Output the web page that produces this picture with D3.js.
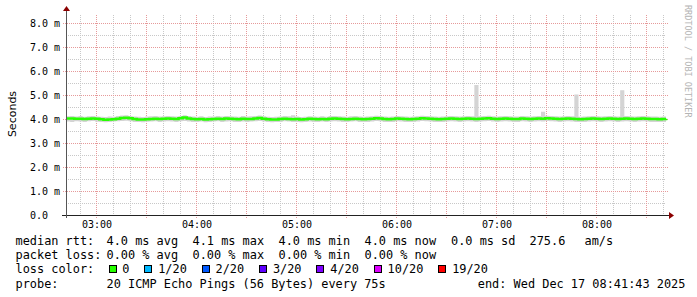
<!DOCTYPE html>
<html>
<head>
<meta charset="utf-8">
<script src="https://cdn.jsdelivr.net/npm/d3@7"></script>
<style>
  body { margin: 0; background: #fff; }
  svg { display: block; }
  text { font-family: "DejaVu Sans Mono", monospace; }
</style>
</head>
<body>
<svg id="chart" width="697" height="297"></svg>
<script>
// median rtt (ms), one value per 150 s from 02:41:43 to 08:41:43
const median = [
  4.02,4.02,4.01,4.01,4.00,4.01,4.02,4.01,3.99,3.97,3.98,3.99,
  4.01,4.04,4.05,4.03,4.00,3.98,3.98,3.99,4.00,4.01,4.00,4.01,
  4.02,4.01,4.00,4.03,4.06,4.02,4.00,3.99,4.00,3.98,3.99,4.00,
  4.01,4.00,4.02,4.01,4.00,3.99,4.01,4.00,4.00,4.02,4.04,4.01,
  3.99,3.98,3.98,4.00,4.01,4.00,3.99,4.00,3.98,3.99,4.01,4.00,
  3.99,4.00,3.99,4.01,4.02,4.01,4.00,3.99,4.00,4.01,4.00,3.99,
  4.00,4.01,4.03,4.02,4.00,3.99,4.00,4.02,4.01,4.00,3.99,4.00,
  4.01,4.03,4.02,4.01,4.00,3.99,4.00,4.01,4.02,4.01,4.00,4.01,
  4.02,4.01,4.00,4.01,4.02,4.03,4.01,4.00,4.01,4.02,4.01,4.00,
  4.00,4.02,4.01,4.00,4.01,4.02,4.01,4.03,4.02,4.01,4.00,4.01,
  4.02,4.01,4.00,3.99,4.00,4.01,4.02,4.01,4.00,4.01,4.02,4.01,
  4.00,4.01,4.02,4.01,4.00,4.01,4.02,4.01,4.00,4.00,3.99,4.00,
  4.01
];
// fastest ping of each step (ms)
const smokeLow = [
  3.90,3.88,3.91,3.90,3.87,3.91,3.92,3.89,3.88,3.86,3.87,3.90,
  3.91,3.92,3.93,3.91,3.88,3.87,3.86,3.89,3.90,3.91,3.88,3.90,
  3.91,3.90,3.88,3.91,3.92,3.90,3.88,3.87,3.90,3.86,3.87,3.90,
  3.91,3.88,3.90,3.91,3.88,3.87,3.90,3.88,3.90,3.91,3.92,3.90,
  3.87,3.86,3.87,3.88,3.91,3.90,3.87,3.88,3.86,3.87,3.90,3.88,
  3.87,3.90,3.88,3.90,3.91,3.90,3.88,3.87,3.90,3.91,3.88,3.87,
  3.88,3.90,3.92,3.91,3.88,3.87,3.88,3.91,3.90,3.88,3.87,3.88,
  3.90,3.92,3.91,3.90,3.88,3.87,3.88,3.90,3.91,3.90,3.88,3.90,
  3.91,3.90,3.88,3.90,3.91,3.92,3.90,3.88,3.90,3.91,3.90,3.88,
  3.88,3.91,3.90,3.88,3.90,3.91,3.90,3.92,3.91,3.90,3.88,3.90,
  3.91,3.90,3.88,3.87,3.88,3.90,3.91,3.90,3.88,3.90,3.91,3.90,
  3.88,3.90,3.91,3.90,3.88,3.90,3.91,3.90,3.88,3.88,3.87,3.88,
  3.90
];
// slowest ping of each step (ms)
const smokeHigh = [
  4.11,4.13,4.10,4.12,4.09,4.11,4.13,4.10,4.09,4.08,4.10,4.09,
  4.12,4.15,4.16,4.13,4.10,4.09,4.08,4.10,4.11,4.13,4.10,4.11,
  4.12,4.11,4.10,4.13,4.16,4.12,4.10,4.09,4.11,4.08,4.10,4.10,
  4.12,4.10,4.13,4.11,4.10,4.09,4.12,4.10,4.11,4.13,4.15,4.11,
  4.09,4.08,4.09,4.10,4.12,4.11,4.16,4.10,4.08,4.09,4.11,4.10,
  4.09,4.11,4.09,4.12,4.13,4.11,4.10,4.09,4.11,4.12,4.10,4.09,
  4.10,4.11,4.14,4.13,4.10,4.09,4.10,4.13,4.11,4.10,4.09,4.10,
  4.11,4.14,4.13,4.11,4.10,4.09,4.10,4.11,4.13,4.11,4.10,4.11,
  4.12,4.11,5.42,4.11,4.13,4.14,4.11,4.10,4.11,4.13,4.11,4.10,
  4.10,4.13,4.11,4.10,4.11,4.13,4.30,4.14,4.13,4.11,4.10,4.11,
  4.13,4.11,5.02,4.09,4.10,4.11,4.13,4.11,4.10,4.11,4.13,4.11,
  4.10,5.20,4.13,4.11,4.10,4.11,4.13,4.11,4.10,4.10,4.09,4.10,
  4.11
];

const yTickValues = [0, 1, 2, 3, 4, 5, 6, 7, 8];
const yTickLabels = ["0.0", "1.0 m", "2.0 m", "3.0 m", "4.0 m", "5.0 m", "6.0 m", "7.0 m", "8.0 m"];

const lossLabels = ["0", "1/20", "2/20", "3/20", "4/20", "10/20", "19/20"];
const lossColors = ["#26ff00", "#00b8ff", "#0059ff", "#5e00ff", "#7e00ff", "#dd00ff", "#ff0000"];

const legendRtt = ["median rtt:", "4.0 ms avg", "4.1 ms max", "4.0 ms min", "4.0 ms now", "0.0 ms sd", "275.6", "am/s"];
const legendLoss = ["packet loss:", "0.00 % avg", "0.00 % max", "0.00 % min", "0.00 % now"];
const probeText = "20 ICMP Echo Pings (56 Bytes) every 75s";
const endText = "end: Wed Dec 17 08:41:43 2025";

const START = Date.UTC(2025, 11, 17, 2, 41, 43);
const END = Date.UTC(2025, 11, 17, 8, 41, 43);
const STEP = 150 * 1000;

const LEFT = 66, RIGHT = 666, TOP = 15, BOTTOM = 215;
const CW = 7.17; // legend character cell

const svg = d3.select("#chart");

const x = d3.scaleUtc().domain([new Date(START), new Date(END)]).range([LEFT, RIGHT]);
const y = d3.scaleLinear().domain([0, 200 / 24]).range([BOTTOM, TOP]);

const rows = median.map((m, i) => ({
  t: new Date(START + i * STEP), med: m, lo: smokeLow[i], hi: smokeHigh[i]
}));

// grid
const grid = svg.append("g").attr("shape-rendering", "crispEdges");
const minorY = d3.range(0.5, 8.4, 1);
grid.selectAll(".hy").data(minorY).join("line")
  .attr("x1", LEFT).attr("x2", RIGHT)
  .attr("y1", d => Math.round(y(d)) + 0.5).attr("y2", d => Math.round(y(d)) + 0.5)
  .attr("stroke", "#c8c8c8").attr("stroke-dasharray", "1,1");
const minorX = d3.utcMinute.every(10).range(new Date(START), new Date(END))
  .filter(d => d.getUTCMinutes() % 30 !== 0);
grid.selectAll(".vx").data(minorX).join("line")
  .attr("x1", d => Math.round(x(d)) + 0.5).attr("x2", d => Math.round(x(d)) + 0.5)
  .attr("y1", TOP).attr("y2", BOTTOM)
  .attr("stroke", "#c8c8c8").attr("stroke-dasharray", "1,1");
const majorX = d3.utcMinute.every(30).range(new Date(START), new Date(END));
grid.selectAll(".mx").data(majorX).join("line")
  .attr("x1", d => Math.round(x(d)) + 0.5).attr("x2", d => Math.round(x(d)) + 0.5)
  .attr("y1", TOP).attr("y2", BOTTOM + 3)
  .attr("stroke", "#e69a9a").attr("stroke-dasharray", "1,1");
grid.selectAll(".my").data(yTickValues.slice(1)).join("line")
  .attr("x1", LEFT - 3).attr("x2", RIGHT + 2)
  .attr("y1", d => Math.round(y(d)) + 0.5).attr("y2", d => Math.round(y(d)) + 0.5)
  .attr("stroke", "#e69a9a").attr("stroke-dasharray", "1,1");

// smoke and median
const plot = svg.append("g");
plot.append("path").datum(rows)
  .attr("fill", "#d4d4d4")
  .attr("d", d3.area().curve(d3.curveStepAfter)
    .x(d => x(d.t)).y0(d => y(d.lo)).y1(d => y(d.hi)));
plot.append("path").datum(rows)
  .attr("fill", "none").attr("stroke", "#26ff00").attr("stroke-width", 2.6)
  .attr("d", d3.line().curve(d3.curveStepAfter).x(d => x(d.t)).y(d => y(d.med)));

// axes
const axis = svg.append("g").attr("shape-rendering", "crispEdges");
axis.append("line").attr("x1", LEFT - 4).attr("x2", RIGHT + 4)
  .attr("y1", BOTTOM + 0.5).attr("y2", BOTTOM + 0.5).attr("stroke", "#222");
axis.append("line").attr("x1", LEFT + 0.5).attr("x2", LEFT + 0.5)
  .attr("y1", TOP - 5).attr("y2", BOTTOM + 3).attr("stroke", "#555");
svg.append("path").attr("fill", "#8b0000")
  .attr("d", `M${RIGHT + 3},${BOTTOM - 3}L${RIGHT + 8},${BOTTOM + 0.5}L${RIGHT + 3},${BOTTOM + 4}Z`);
svg.append("path").attr("fill", "#8b0000")
  .attr("d", `M${LEFT - 3},${TOP - 4}L${LEFT + 0.5},${TOP - 9}L${LEFT + 4},${TOP - 4}Z`);

// y tick labels
svg.append("g").selectAll("text").data(yTickValues).join("text")
  .attr("x", 30).attr("y", d => y(d) + 3.5)
  .attr("font-size", 10).attr("fill", "#000")
  .text((d, i) => yTickLabels[i]);

// x tick labels
const fmt = d3.utcFormat("%H:%M");
svg.append("g").selectAll("text").data(d3.utcHour.every(1).range(new Date(START), new Date(END)))
  .join("text")
  .attr("x", d => x(d) + 0.5).attr("y", 228)
  .attr("text-anchor", "middle").attr("font-size", 10)
  .text(d => fmt(d));

// y axis title
svg.append("text")
  .attr("transform", "translate(15.5,114) rotate(-90)")
  .attr("text-anchor", "middle")
  .style("font-family", "'DejaVu Sans', sans-serif").attr("font-size", 11)
  .text("Seconds");

// watermark
svg.append("text")
  .attr("transform", "translate(684.5,5) rotate(90)")
  .attr("font-size", 8.5).attr("fill", "#b4b4b4")
  .text("RRDTOOL / TOBI OETIKER");

// legend
const cols = [16, 107, 193, 279, 365, 451.5, 530, 585];
const legend = svg.append("g").attr("font-size", 11.9).attr("fill", "#000");
legend.selectAll(".rtt").data(legendRtt).join("text")
  .attr("x", (d, i) => cols[i] - 0.5).attr("y", 245).text(d => d);
legend.selectAll(".loss").data(legendLoss).join("text")
  .attr("x", (d, i) => cols[i] - 0.5).attr("y", 259.2).text(d => d);
legend.append("text").attr("x", cols[0] - 0.5).attr("y", 273.4).text("loss color:");
legend.append("text").attr("x", cols[0] - 0.5).attr("y", 287.6).text("probe:");
legend.append("text").attr("x", cols[1] - 0.5).attr("y", 287.6).text(probeText);
legend.append("text").attr("x", 477.8).attr("y", 287.6).text(endText);

// loss colour swatches laid out in character cells
let cx = 108.5;
const swatchPos = lossLabels.map(l => {
  const p = cx;
  cx += (2 + l.length + 2) * CW;
  return p;
});
const sw = legend.selectAll(".sw").data(lossLabels).join("g")
  .attr("transform", (d, i) => `translate(${swatchPos[i]},0)`);
sw.append("rect").attr("x", 0.5).attr("y", 265.5).attr("width", 7).attr("height", 7)
  .attr("fill", (d, i) => lossColors[i]).attr("stroke", "#000").attr("shape-rendering", "crispEdges");
sw.append("text").attr("x", 2 * CW - 0.5).attr("y", 273.4).text(d => d);
</script>
</body>
</html>
